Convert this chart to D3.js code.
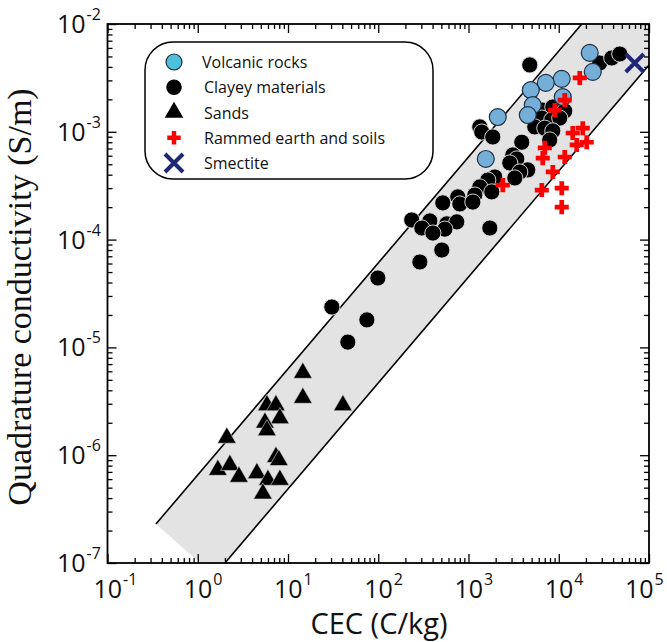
<!DOCTYPE html>
<html>
<head>
<meta charset="utf-8">
<script src="https://cdn.jsdelivr.net/npm/d3@7"></script>
<style>
  body { margin: 0; background: #fff; }
  svg { display: block; }
</style>
</head>
<body>
<svg id="chart" width="667" height="642"></svg>
<script>
// --- data (CEC in C/kg, quadrature conductivity in S/m) ---
const volcanicCEC = [22040, 23810, 10790, 7180, 4900, 5150, 4540, 11070, 2110, 1555]
const volcanicSigma = [5.4e-3, 3.6e-3, 3.1e-3, 2.84e-3, 2.44e-3, 1.77e-3, 1.43e-3, 2.1e-3, 1.37e-3, 5.6e-4]

const clayeyCEC = [4775, 28440, 38640, 47420, 1334, 1403, 1858, 6650, 8590, 11650,
  6490, 8360, 10260, 5420, 7000, 8590, 7945, 3893, 3096, 3428,
  2866, 4540, 3700, 3258, 1955, 1637, 1334, 1812, 1175, 760,
  801, 519, 1117, 235, 373, 304, 575, 742, 547, 403,
  1722, 506, 289, 30.6, 99, 74.8, 46]
const clayeySigma = [4.17e-3, 4.35e-3, 4.84e-3, 5.27e-3, 1.11e-3, 9.95e-4, 8.95e-4, 1.59e-3, 1.7e-3, 1.56e-3,
  1.34e-3, 1.29e-3, 1.34e-3, 1.11e-3, 1.08e-3, 1.02e-3, 8.4e-4, 8.0e-4, 6.1e-4, 5.6e-4,
  5.14e-4, 4.43e-4, 4.24e-4, 3.73e-4, 3.81e-4, 3.57e-4, 3.08e-4, 2.77e-4, 2.59e-4, 2.49e-4,
  2.14e-4, 2.19e-4, 2.23e-4, 1.52e-4, 1.49e-4, 1.28e-4, 1.4e-4, 1.46e-4, 1.25e-4, 1.15e-4,
  1.28e-4, 8.0e-5, 6.2e-5, 2.37e-5, 4.4e-5, 1.8e-5, 1.12e-5]

const sandsCEC = [14.6, 14.6, 40.6, 5.84, 7.35, 8.13, 5.55, 5.84, 2.1, 7.35,
  7.93, 1.67, 2.27, 2.86, 4.52, 5.99, 8.13, 5.27]
const sandsSigma = [5.8e-6, 3.4e-6, 2.9e-6, 2.9e-6, 2.9e-6, 2.2e-6, 2.0e-6, 1.7e-6, 1.45e-6, 9.6e-7,
  9.0e-7, 7.3e-7, 8.1e-7, 6.3e-7, 6.8e-7, 5.9e-7, 5.9e-7, 4.4e-7]

const rammedCEC = [17090, 11650, 9030, 14290, 18450, 15810, 20420, 7000, 6650, 11650,
  8590, 6490, 10790, 10790, 2400]
const rammedSigma = [3.16e-3, 1.97e-3, 1.59e-3, 9.75e-4, 1.08e-3, 7.55e-4, 8.0e-4, 7.1e-4, 5.7e-4, 5.84e-4,
  4.24e-4, 2.88e-4, 3.0e-4, 2.0e-4, 3.2e-4]

const smectiteCEC = [69500]
const smectiteSigma = [4.35e-3]

// band limits (upper and lower lines of the shaded domain)
const bandUpper = [[0.344, 2.3e-7], [1.8e4, 1e-2]]
const bandLower = [[2.0, 1e-7], [1e5, 4.16e-3]]
const bandCorners = [[1e5, 1e-2], [1.06, 1e-7]]

const xTickExp = [-1, 0, 1, 2, 3, 4, 5]
const yTickExp = [-7, -6, -5, -4, -3, -2]

const legendItems = ['Volcanic rocks', 'Clayey materials', 'Sands', 'Rammed earth and soils', 'Smectite']

// --- chart ---
const svg = d3.select('#chart')
const x = d3.scaleLog().domain([0.1, 1e5]).range([107.5, 649])
const y = d3.scaleLog().domain([1e-7, 1e-2]).range([563, 24])

const zip = (a, b) => a.map((v, i) => [v, b[i]])

svg.append('defs').append('clipPath').attr('id', 'plot')
  .append('rect')
  .attr('x', x(0.1)).attr('y', y(1e-2))
  .attr('width', x(1e5) - x(0.1)).attr('height', y(1e-7) - y(1e-2))

const plot = svg.append('g').attr('clip-path', 'url(#plot)')

const line = d3.line().x((d) => x(d[0])).y((d) => y(d[1]))

// shaded band
plot.append('path')
  .datum([bandUpper[0], bandUpper[1], bandCorners[0], bandLower[1], bandLower[0], bandCorners[1]])
  .attr('d', (d) => line(d) + 'Z')
  .attr('fill', '#e3e3e3')

plot.selectAll('path.band')
  .data([bandUpper, bandLower])
  .join('path')
  .attr('class', 'band')
  .attr('d', line)
  .attr('fill', 'none')
  .attr('stroke', '#000')
  .attr('stroke-width', 1.6)

// ticks
const majorX = xTickExp.map((e) => 10 ** e)
const minorX = d3.range(-1, 5).flatMap((e) => d3.range(2, 10).map((m) => m * 10 ** e))
const majorY = yTickExp.map((e) => 10 ** e)
const minorY = d3.range(-7, -2).flatMap((e) => d3.range(2, 10).map((m) => m * 10 ** e))

function tickAxis(axis, vals, len) {
  return axis.tickValues(vals).tickSize(-len).tickFormat('')
}
const axes = [
  [d3.axisBottom(x), majorX, minorX, `translate(0,${y(1e-7)})`],
  [d3.axisTop(x), majorX, minorX, `translate(0,${y(1e-2)})`],
  [d3.axisLeft(y), majorY, minorY, `translate(${x(0.1)},0)`],
  [d3.axisRight(y), majorY, minorY, `translate(${x(1e5)},0)`],
]
axes.forEach(([ax, maj, min, tr]) => {
  const g1 = svg.append('g').attr('transform', tr).call(tickAxis(ax, maj, 9))
  const g2 = svg.append('g').attr('transform', tr).call(tickAxis(ax, min, 5))
  ;[g1, g2].forEach((g) => {
    g.select('.domain').remove()
    g.selectAll('line').attr('stroke', '#000').attr('stroke-width', 1.3)
  })
})

svg.append('rect')
  .attr('x', x(0.1)).attr('y', y(1e-2))
  .attr('width', x(1e5) - x(0.1)).attr('height', y(1e-7) - y(1e-2))
  .attr('fill', 'none').attr('stroke', '#000').attr('stroke-width', 1.8)

// tick labels
const labelFont = "'Open Sans', 'DejaVu Sans', sans-serif"
const xl = svg.append('g').attr('font-family', labelFont).attr('fill', '#111')
xTickExp.forEach((e) => {
  const t = xl.append('text')
    .attr('x', x(10 ** e) - (e === 5 ? 24 : 14))
    .attr('y', 598)
    .attr('font-size', 25)
  t.append('tspan').text('10')
  t.append('tspan').attr('font-size', 16).attr('dy', -13).attr('dx', 1).text(e)
})
const yl = svg.append('g').attr('font-family', labelFont).attr('fill', '#111')
yTickExp.forEach((e) => {
  const t = yl.append('text')
    .attr('x', 57)
    .attr('y', y(10 ** e) + 9)
    .attr('font-size', 25)
  t.append('tspan').text('10')
  t.append('tspan').attr('font-size', 16).attr('dy', -13).attr('dx', 1).text(e)
})

// axis titles
svg.append('text')
  .attr('x', 379).attr('y', 634)
  .attr('text-anchor', 'middle')
  .attr('font-family', labelFont)
  .attr('font-size', 29)
  .attr('fill', '#111')
  .text('CEC (C/kg)')

svg.append('text')
  .attr('transform', `translate(31,297) rotate(-90)`)
  .attr('text-anchor', 'middle')
  .attr('font-family', "'Liberation Serif', 'DejaVu Serif', serif")
  .attr('font-size', 34)
  .attr('fill', '#111')
  .text('Quadrature conductivity (S/m)')

// markers
const sym = (type, size) => d3.symbol().type(type).size(size)

plot.append('g').selectAll('path')
  .data(zip(clayeyCEC, clayeySigma))
  .join('path')
  .attr('transform', (d) => `translate(${x(d[0])},${y(d[1])})`)
  .attr('d', sym(d3.symbolCircle, 205))
  .attr('fill', '#000')
  .attr('stroke', '#e8e8e8')
  .attr('stroke-width', 0.9)

plot.append('g').selectAll('path')
  .data(zip(volcanicCEC, volcanicSigma))
  .join('path')
  .attr('transform', (d) => `translate(${x(d[0])},${y(d[1])})`)
  .attr('d', sym(d3.symbolCircle, 225))
  .attr('fill', '#75aed6')
  .attr('stroke', '#1c2f45')
  .attr('stroke-width', 1.2)

plot.append('g').selectAll('path')
  .data(zip(sandsCEC, sandsSigma))
  .join('path')
  .attr('transform', (d) => `translate(${x(d[0])},${y(d[1])})`)
  .attr('d', sym(d3.symbolTriangle, 150))
  .attr('fill', '#000')
  .attr('stroke', '#ddd')
  .attr('stroke-width', 0.6)

plot.append('g').selectAll('path')
  .data(zip(rammedCEC, rammedSigma))
  .join('path')
  .attr('transform', (d) => `translate(${x(d[0])},${y(d[1])})`)
  .attr('d', sym(d3.symbolCross, 110))
  .attr('fill', '#ff0000')

const xMark = (g, s) => g.append('path')
  .attr('d', `M${-s},${-s}L${s},${s}M${-s},${s}L${s},${-s}`)
  .attr('stroke', '#1f2877').attr('stroke-width', 4).attr('fill', 'none')

plot.append('g').selectAll('g')
  .data(zip(smectiteCEC, smectiteSigma))
  .join('g')
  .attr('transform', (d) => `translate(${x(d[0])},${y(d[1])})`)
  .each(function () { xMark(d3.select(this), 9) })

// legend
const lg = svg.append('g')
lg.append('rect')
  .attr('x', 145).attr('y', 42).attr('width', 288).attr('height', 137)
  .attr('rx', 28)
  .attr('fill', '#fff').attr('stroke', '#000').attr('stroke-width', 1.5)

const legendY = d3.scalePoint().domain(legendItems).range([62, 163])
const lx = 174
lg.append('path').attr('transform', `translate(${lx},${legendY(legendItems[0])})`)
  .attr('d', sym(d3.symbolCircle, 200)).attr('fill', '#4fc0da').attr('stroke', '#1c2f45').attr('stroke-width', 1.2)
lg.append('path').attr('transform', `translate(${lx},${legendY(legendItems[1])})`)
  .attr('d', sym(d3.symbolCircle, 190)).attr('fill', '#000')
lg.append('path').attr('transform', `translate(${lx},${legendY(legendItems[2])})`)
  .attr('d', sym(d3.symbolTriangle, 150)).attr('fill', '#000')
lg.append('path').attr('transform', `translate(${lx},${legendY(legendItems[3])})`)
  .attr('d', sym(d3.symbolCross, 100)).attr('fill', '#ff0000')
xMark(lg.append('g').attr('transform', `translate(${lx},${legendY(legendItems[4])})`), 9)

lg.selectAll('text')
  .data(legendItems)
  .join('text')
  .attr('x', (d, i) => (i === 0 ? 202 : 204))
  .attr('y', (d) => legendY(d) + 6)
  .attr('font-family', labelFont)
  .attr('font-size', 16)
  .attr('fill', '#111')
  .text((d) => d)
</script>
</body>
</html>
